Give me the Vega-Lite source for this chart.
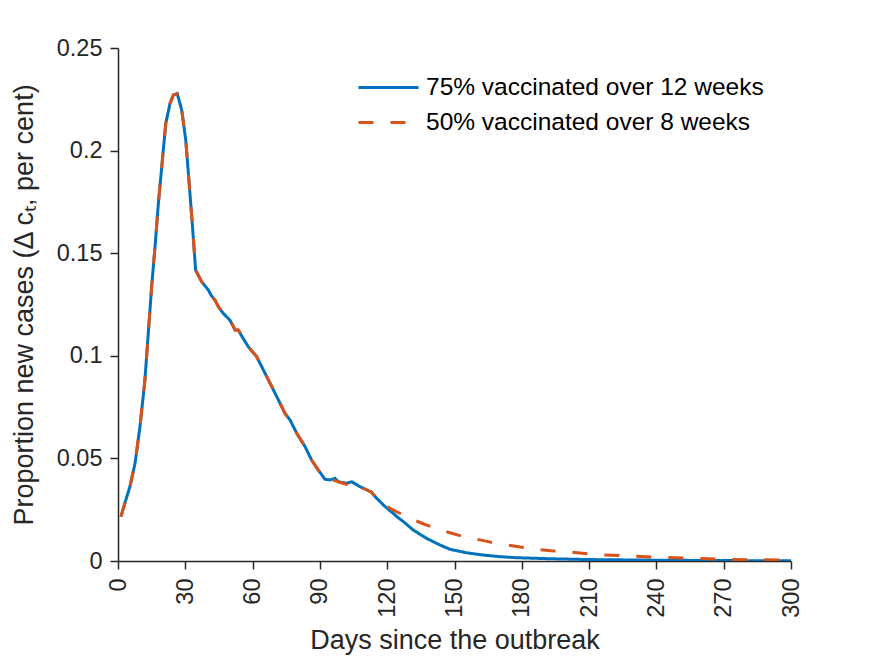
{
  "$schema": "https://vega.github.io/schema/vega-lite/v6.json",
  "width": 673,
  "height": 513,
  "autosize": {"type": "none"},
  "padding": {"left": 118, "top": 48, "right": 84, "bottom": 95},
  "background": "white",
  "data": {
    "values": [
      {"day": 1.3, "value": 0.0216, "series": "75% vaccinated over 12 weeks"},
      {"day": 3, "value": 0.028, "series": "75% vaccinated over 12 weeks"},
      {"day": 5.3, "value": 0.0362, "series": "75% vaccinated over 12 weeks"},
      {"day": 7.6, "value": 0.0476, "series": "75% vaccinated over 12 weeks"},
      {"day": 9.8, "value": 0.0655, "series": "75% vaccinated over 12 weeks"},
      {"day": 12, "value": 0.0882, "series": "75% vaccinated over 12 weeks"},
      {"day": 13.5, "value": 0.111, "series": "75% vaccinated over 12 weeks"},
      {"day": 15, "value": 0.1337, "series": "75% vaccinated over 12 weeks"},
      {"day": 16.5, "value": 0.1532, "series": "75% vaccinated over 12 weeks"},
      {"day": 18, "value": 0.1743, "series": "75% vaccinated over 12 weeks"},
      {"day": 19.5, "value": 0.192, "series": "75% vaccinated over 12 weeks"},
      {"day": 21.3, "value": 0.2133, "series": "75% vaccinated over 12 weeks"},
      {"day": 23.2, "value": 0.223, "series": "75% vaccinated over 12 weeks"},
      {"day": 24.7, "value": 0.2271, "series": "75% vaccinated over 12 weeks"},
      {"day": 26.4, "value": 0.2278, "series": "75% vaccinated over 12 weeks"},
      {"day": 28.4, "value": 0.2198, "series": "75% vaccinated over 12 weeks"},
      {"day": 30.2, "value": 0.2052, "series": "75% vaccinated over 12 weeks"},
      {"day": 31.6, "value": 0.1857, "series": "75% vaccinated over 12 weeks"},
      {"day": 33.1, "value": 0.1646, "series": "75% vaccinated over 12 weeks"},
      {"day": 34.6, "value": 0.1418, "series": "75% vaccinated over 12 weeks"},
      {"day": 37.3, "value": 0.1361, "series": "75% vaccinated over 12 weeks"},
      {"day": 38.5, "value": 0.1345, "series": "75% vaccinated over 12 weeks"},
      {"day": 40.3, "value": 0.132, "series": "75% vaccinated over 12 weeks"},
      {"day": 41.5, "value": 0.1295, "series": "75% vaccinated over 12 weeks"},
      {"day": 43.2, "value": 0.1272, "series": "75% vaccinated over 12 weeks"},
      {"day": 44.7, "value": 0.124, "series": "75% vaccinated over 12 weeks"},
      {"day": 46.9, "value": 0.1207, "series": "75% vaccinated over 12 weeks"},
      {"day": 49.9, "value": 0.1174, "series": "75% vaccinated over 12 weeks"},
      {"day": 52.2, "value": 0.1126, "series": "75% vaccinated over 12 weeks"},
      {"day": 53.6, "value": 0.1126, "series": "75% vaccinated over 12 weeks"},
      {"day": 55.5, "value": 0.109, "series": "75% vaccinated over 12 weeks"},
      {"day": 58.1, "value": 0.1044, "series": "75% vaccinated over 12 weeks"},
      {"day": 61.8, "value": 0.0996, "series": "75% vaccinated over 12 weeks"},
      {"day": 64.8, "value": 0.0931, "series": "75% vaccinated over 12 weeks"},
      {"day": 67.8, "value": 0.0866, "series": "75% vaccinated over 12 weeks"},
      {"day": 71.5, "value": 0.0785, "series": "75% vaccinated over 12 weeks"},
      {"day": 74.4, "value": 0.072, "series": "75% vaccinated over 12 weeks"},
      {"day": 76.7, "value": 0.0687, "series": "75% vaccinated over 12 weeks"},
      {"day": 79.7, "value": 0.0622, "series": "75% vaccinated over 12 weeks"},
      {"day": 83.4, "value": 0.0557, "series": "75% vaccinated over 12 weeks"},
      {"day": 86.3, "value": 0.0492, "series": "75% vaccinated over 12 weeks"},
      {"day": 89.3, "value": 0.0443, "series": "75% vaccinated over 12 weeks"},
      {"day": 92.3, "value": 0.0398, "series": "75% vaccinated over 12 weeks"},
      {"day": 94.5, "value": 0.0395, "series": "75% vaccinated over 12 weeks"},
      {"day": 96.7, "value": 0.0403, "series": "75% vaccinated over 12 weeks"},
      {"day": 98.2, "value": 0.0386, "series": "75% vaccinated over 12 weeks"},
      {"day": 101.9, "value": 0.0379, "series": "75% vaccinated over 12 weeks"},
      {"day": 104.2, "value": 0.0386, "series": "75% vaccinated over 12 weeks"},
      {"day": 107.9, "value": 0.0362, "series": "75% vaccinated over 12 weeks"},
      {"day": 111, "value": 0.0346, "series": "75% vaccinated over 12 weeks"},
      {"day": 113, "value": 0.0335, "series": "75% vaccinated over 12 weeks"},
      {"day": 115.3, "value": 0.0306, "series": "75% vaccinated over 12 weeks"},
      {"day": 118.3, "value": 0.0273, "series": "75% vaccinated over 12 weeks"},
      {"day": 120.5, "value": 0.0252, "series": "75% vaccinated over 12 weeks"},
      {"day": 122.7, "value": 0.0232, "series": "75% vaccinated over 12 weeks"},
      {"day": 125, "value": 0.021, "series": "75% vaccinated over 12 weeks"},
      {"day": 127.2, "value": 0.0192, "series": "75% vaccinated over 12 weeks"},
      {"day": 131.6, "value": 0.0151, "series": "75% vaccinated over 12 weeks"},
      {"day": 137.6, "value": 0.011, "series": "75% vaccinated over 12 weeks"},
      {"day": 143.5, "value": 0.0078, "series": "75% vaccinated over 12 weeks"},
      {"day": 148, "value": 0.0057, "series": "75% vaccinated over 12 weeks"},
      {"day": 155.4, "value": 0.004, "series": "75% vaccinated over 12 weeks"},
      {"day": 162.8, "value": 0.0029, "series": "75% vaccinated over 12 weeks"},
      {"day": 170.3, "value": 0.0021, "series": "75% vaccinated over 12 weeks"},
      {"day": 177.7, "value": 0.0016, "series": "75% vaccinated over 12 weeks"},
      {"day": 192.6, "value": 0.0011, "series": "75% vaccinated over 12 weeks"},
      {"day": 210, "value": 0.0007, "series": "75% vaccinated over 12 weeks"},
      {"day": 240, "value": 0.0004, "series": "75% vaccinated over 12 weeks"},
      {"day": 270, "value": 0.0002, "series": "75% vaccinated over 12 weeks"},
      {"day": 300, "value": 0.0001, "series": "75% vaccinated over 12 weeks"},
      {"day": 1.3, "value": 0.0216, "series": "50% vaccinated over 8 weeks"},
      {"day": 3, "value": 0.028, "series": "50% vaccinated over 8 weeks"},
      {"day": 5.3, "value": 0.0362, "series": "50% vaccinated over 8 weeks"},
      {"day": 7.6, "value": 0.0476, "series": "50% vaccinated over 8 weeks"},
      {"day": 9.8, "value": 0.0655, "series": "50% vaccinated over 8 weeks"},
      {"day": 12, "value": 0.0882, "series": "50% vaccinated over 8 weeks"},
      {"day": 13.5, "value": 0.111, "series": "50% vaccinated over 8 weeks"},
      {"day": 15, "value": 0.1337, "series": "50% vaccinated over 8 weeks"},
      {"day": 16.5, "value": 0.1532, "series": "50% vaccinated over 8 weeks"},
      {"day": 18, "value": 0.1743, "series": "50% vaccinated over 8 weeks"},
      {"day": 19.5, "value": 0.192, "series": "50% vaccinated over 8 weeks"},
      {"day": 21.3, "value": 0.2133, "series": "50% vaccinated over 8 weeks"},
      {"day": 23.2, "value": 0.223, "series": "50% vaccinated over 8 weeks"},
      {"day": 24.7, "value": 0.2271, "series": "50% vaccinated over 8 weeks"},
      {"day": 26.4, "value": 0.2276, "series": "50% vaccinated over 8 weeks"},
      {"day": 28.4, "value": 0.2198, "series": "50% vaccinated over 8 weeks"},
      {"day": 30.2, "value": 0.2052, "series": "50% vaccinated over 8 weeks"},
      {"day": 31.6, "value": 0.1857, "series": "50% vaccinated over 8 weeks"},
      {"day": 33.1, "value": 0.1646, "series": "50% vaccinated over 8 weeks"},
      {"day": 34.6, "value": 0.1418, "series": "50% vaccinated over 8 weeks"},
      {"day": 37.3, "value": 0.1361, "series": "50% vaccinated over 8 weeks"},
      {"day": 38.5, "value": 0.1345, "series": "50% vaccinated over 8 weeks"},
      {"day": 40.3, "value": 0.132, "series": "50% vaccinated over 8 weeks"},
      {"day": 41.5, "value": 0.1295, "series": "50% vaccinated over 8 weeks"},
      {"day": 43.2, "value": 0.1272, "series": "50% vaccinated over 8 weeks"},
      {"day": 44.7, "value": 0.124, "series": "50% vaccinated over 8 weeks"},
      {"day": 46.9, "value": 0.1207, "series": "50% vaccinated over 8 weeks"},
      {"day": 49.9, "value": 0.1174, "series": "50% vaccinated over 8 weeks"},
      {"day": 52.2, "value": 0.1126, "series": "50% vaccinated over 8 weeks"},
      {"day": 53.6, "value": 0.1126, "series": "50% vaccinated over 8 weeks"},
      {"day": 55.5, "value": 0.109, "series": "50% vaccinated over 8 weeks"},
      {"day": 58.1, "value": 0.1044, "series": "50% vaccinated over 8 weeks"},
      {"day": 61.8, "value": 0.0996, "series": "50% vaccinated over 8 weeks"},
      {"day": 64.8, "value": 0.0931, "series": "50% vaccinated over 8 weeks"},
      {"day": 67.8, "value": 0.0866, "series": "50% vaccinated over 8 weeks"},
      {"day": 71.5, "value": 0.0785, "series": "50% vaccinated over 8 weeks"},
      {"day": 74.4, "value": 0.072, "series": "50% vaccinated over 8 weeks"},
      {"day": 76.7, "value": 0.0687, "series": "50% vaccinated over 8 weeks"},
      {"day": 79.7, "value": 0.0622, "series": "50% vaccinated over 8 weeks"},
      {"day": 83.4, "value": 0.0557, "series": "50% vaccinated over 8 weeks"},
      {"day": 86.3, "value": 0.0492, "series": "50% vaccinated over 8 weeks"},
      {"day": 89.3, "value": 0.0443, "series": "50% vaccinated over 8 weeks"},
      {"day": 92.3, "value": 0.0398, "series": "50% vaccinated over 8 weeks"},
      {"day": 94.5, "value": 0.0395, "series": "50% vaccinated over 8 weeks"},
      {"day": 96.7, "value": 0.0392, "series": "50% vaccinated over 8 weeks"},
      {"day": 98.2, "value": 0.0386, "series": "50% vaccinated over 8 weeks"},
      {"day": 101.9, "value": 0.0373, "series": "50% vaccinated over 8 weeks"},
      {"day": 104.2, "value": 0.0384, "series": "50% vaccinated over 8 weeks"},
      {"day": 107.9, "value": 0.0362, "series": "50% vaccinated over 8 weeks"},
      {"day": 111, "value": 0.0346, "series": "50% vaccinated over 8 weeks"},
      {"day": 113, "value": 0.0335, "series": "50% vaccinated over 8 weeks"},
      {"day": 115.3, "value": 0.0306, "series": "50% vaccinated over 8 weeks"},
      {"day": 118.3, "value": 0.0276, "series": "50% vaccinated over 8 weeks"},
      {"day": 121, "value": 0.0258, "series": "50% vaccinated over 8 weeks"},
      {"day": 124.2, "value": 0.024, "series": "50% vaccinated over 8 weeks"},
      {"day": 130, "value": 0.021, "series": "50% vaccinated over 8 weeks"},
      {"day": 135.4, "value": 0.0184, "series": "50% vaccinated over 8 weeks"},
      {"day": 141, "value": 0.0162, "series": "50% vaccinated over 8 weeks"},
      {"day": 147.2, "value": 0.014, "series": "50% vaccinated over 8 weeks"},
      {"day": 153, "value": 0.0122, "series": "50% vaccinated over 8 weeks"},
      {"day": 159.9, "value": 0.0106, "series": "50% vaccinated over 8 weeks"},
      {"day": 166, "value": 0.0092, "series": "50% vaccinated over 8 weeks"},
      {"day": 173.3, "value": 0.0078, "series": "50% vaccinated over 8 weeks"},
      {"day": 180, "value": 0.0067, "series": "50% vaccinated over 8 weeks"},
      {"day": 186.6, "value": 0.0057, "series": "50% vaccinated over 8 weeks"},
      {"day": 193, "value": 0.005, "series": "50% vaccinated over 8 weeks"},
      {"day": 200.7, "value": 0.0044, "series": "50% vaccinated over 8 weeks"},
      {"day": 214, "value": 0.0031, "series": "50% vaccinated over 8 weeks"},
      {"day": 228.5, "value": 0.0024, "series": "50% vaccinated over 8 weeks"},
      {"day": 242.3, "value": 0.0018, "series": "50% vaccinated over 8 weeks"},
      {"day": 256.5, "value": 0.0013, "series": "50% vaccinated over 8 weeks"},
      {"day": 270.6, "value": 0.0008, "series": "50% vaccinated over 8 weeks"},
      {"day": 284.7, "value": 0.0006, "series": "50% vaccinated over 8 weeks"},
      {"day": 300, "value": 0.0004, "series": "50% vaccinated over 8 weeks"}
    ]
  },
  "mark": {"type": "line", "strokeWidth": 3, "clip": true},
  "encoding": {
    "x": {
      "field": "day",
      "type": "quantitative",
      "scale": {"domain": [0, 300], "nice": false, "zero": false},
      "axis": {
        "title": "Days since the outbreak",
        "values": [0, 30, 60, 90, 120, 150, 180, 210, 240, 270, 300],
        "labelAngle": 270,
        "labelAlign": "right",
        "labelBaseline": "middle",
        "labelPadding": 9,
        "titlePadding": 10
      }
    },
    "y": {
      "field": "value",
      "type": "quantitative",
      "scale": {"domain": [0, 0.25], "nice": false},
      "axis": {
        "title": "Proportion new cases (Δ cₜ, per cent)",
        "values": [0, 0.05, 0.1, 0.15, 0.2, 0.25],
        "format": "~g",
        "labelPadding": 8,
        "titlePadding": 18
      }
    },
    "color": {
      "field": "series",
      "type": "nominal",
      "sort": ["75% vaccinated over 12 weeks", "50% vaccinated over 8 weeks"],
      "scale": {
        "domain": ["75% vaccinated over 12 weeks", "50% vaccinated over 8 weeks"],
        "range": ["#0072BD", "#D95319"]
      },
      "legend": {
        "title": null,
        "orient": "none",
        "legendX": 239,
        "legendY": 22,
        "symbolType": "stroke",
        "symbolSize": 3600,
        "symbolStrokeWidth": 3,
        "clipHeight": 35,
        "labelOffset": 6,
        "labelFontSize": 24.5,
        "labelFont": "Liberation Sans",
        "labelColor": "#000000",
        "labelLimit": 600,
        "padding": 0,
        "rowPadding": 0
      }
    },
    "strokeDash": {
      "field": "series",
      "type": "nominal",
      "sort": ["75% vaccinated over 12 weeks", "50% vaccinated over 8 weeks"],
      "scale": {
        "domain": ["75% vaccinated over 12 weeks", "50% vaccinated over 8 weeks"],
        "range": [[1, 0], [15, 17]]
      },
      "legend": null
    },
    "order": {"field": "series", "sort": "descending"}
  },
  "config": {
    "view": {"stroke": null},
    "font": "Liberation Sans",
    "axis": {
      "grid": false,
      "domainColor": "#262626",
      "domainWidth": 1.5,
      "tickColor": "#262626",
      "tickWidth": 1.5,
      "tickSize": 8,
      "labelColor": "#262626",
      "labelFontSize": 23.5,
      "labelFont": "Liberation Sans",
      "titleColor": "#262626",
      "titleFontSize": 27,
      "titleFont": "Liberation Sans",
      "titleFontWeight": "normal"
    }
  }
}
